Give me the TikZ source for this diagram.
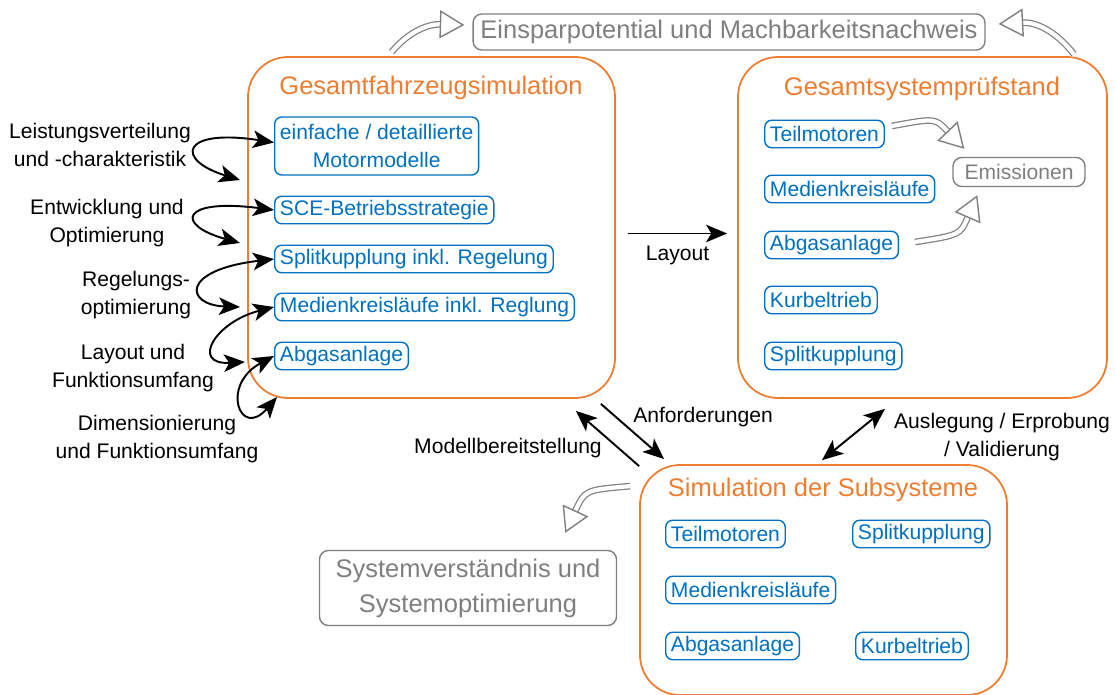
\documentclass[tikz,border=0pt]{standalone}
\usepackage{fontspec}
\setmainfont{Liberation Sans}
\usetikzlibrary{arrows.meta,fit,calc}
\definecolor{orng}{RGB}{237,125,49}
\definecolor{blu}{RGB}{0,112,192}
\definecolor{gry}{RGB}{127,127,127}

\begin{document}
\begin{tikzpicture}[x=0.02cm,y=-0.02cm,>={Stealth[length=12pt,width=10pt,inset=3pt]},
  bigbox/.style={draw=orng,line width=1pt,rounded corners=0.8cm,inner sep=0pt},
  title/.style={text=orng,font=\fontsize{14.5}{17}\selectfont},
  part/.style={draw=blu,text=blu,line width=0.8pt,rounded corners=4pt,inner xsep=3pt,
    inner ysep=1pt,minimum height=0.55cm,anchor=west,align=center,
    font=\fontsize{12}{15.5}\selectfont},
  goal/.style={draw=gry,text=gry,line width=0.8pt,rounded corners=5pt,align=center,
    font=\fontsize{14.5}{20}\selectfont},
  lbl/.style={align=center,font=\fontsize{12}{15.5}\selectfont},
  link/.style={line width=1.1pt},
  hollow/.style={draw=gry,line width=0.7pt,double=white,double distance=2.4pt,
    -{Triangle[open,length=14pt,width=16pt,line width=0.8pt]}}]
 \useasboundingbox (0,0) rectangle (1115,695);

 % drei Bereiche
 \node[bigbox,fit={(248,57) (615,398)}] (gfz) {};
 \node[bigbox,fit={(738,57) (1107,398)}] (gsp) {};
 \node[bigbox,fit={(640,465) (1007,695)}] (sub) {};
 \node[title] (gfzt) at (431,88) {Gesamtfahrzeugsimulation};
 \node[title] (gspt) at (922,89) {Gesamtsystemprüfstand};
 \node[title] (subt) at (823,490) {Simulation der Subsysteme};

 % Ziele (grau)
 \node[goal,minimum width=10.24cm,minimum height=0.72cm] (ein) at (729,32) {Einsparpotential und Machbarkeitsnachweis};
 \node[goal,minimum width=5.94cm,minimum height=1.5cm] (sys) at (468,588) {Systemverständnis und\\Systemoptimierung};
 \node[goal,minimum width=2.64cm,minimum height=0.58cm,font=\fontsize{12}{14}\selectfont] (em) at (1019,172) {Emissionen};

 % Gesamtfahrzeugsimulation
 \node[part,minimum height=1.16cm] (einf) at (274,146) {einfache / detaillierte\\Motormodelle};
 \node[part] (sce) at (274,210) {SCE-Betriebsstrategie};
 \node[part] (spl) at (274,259) {Splitkupplung inkl. Regelung};
 \node[part] (med) at (274,307) {Medienkreisläufe inkl. Reglung};
 \node[part] (abg) at (274,356) {Abgasanlage};

 % Gesamtsystemprüfstand
 \node[part] (tm2) at (764,134) {Teilmotoren};
 \node[part] (med2) at (764,189) {Medienkreisläufe};
 \node[part] (abg2) at (764,245) {Abgasanlage};
 \node[part] (kt2) at (764,300) {Kurbeltrieb};
 \node[part] (spl2) at (764,356) {Splitkupplung};

 % Subsysteme
 \node[part] (tm3) at (665,534) {Teilmotoren};
 \node[part] (spl3) at (852,534) {Splitkupplung};
 \node[part] (med3) at (665,590) {Medienkreisläufe};
 \node[part] (abg3) at (665,646) {Abgasanlage};
 \node[part] (kt3) at (855,646) {Kurbeltrieb};

 % Beschriftungen links
 \node[lbl] (l1) at (100,145) {Leistungsverteilung\\und -charakteristik};
 \node[lbl] (l2) at (107,223) {Entwicklung und\\Optimierung};
 \node[lbl] (l3) at (136,295) {Regelungs-\\optimierung};
 \node[lbl] (l4) at (133,368) {Layout und\\Funktionsumfang};
 \node[lbl] (l5) at (157,439) {Dimensionierung\\und Funktionsumfang};

 % Schleifen links
 \draw[link,<->] (240,180) .. controls (175,160) and (180,128) .. ([yshift=2pt]einf.west);
 \draw[link,<->] (240,243) .. controls (175,225) and (180,198) .. (sce.west);
 \draw[link,<->] (240,307) .. controls (185,305) and (180,270) .. (spl.west);
 \draw[link,<->] (245,362) .. controls (190,365) and (215,322) .. (med.west);
 \draw[link,<->] (277,397) .. controls (240,440) and (220,385) .. (abg.west);

 % Verbindungen zwischen den Bereichen
 \draw[link,->] ($(gfz.east)+(12,6)$) -- ($(gsp.west)+(-10,6)$) node[midway,below=3pt,lbl] (lay) {Layout};
 \draw[link,->] ($(gfz.south east)+(-15,5)$) -- ($(sub.north west)+(25,-5)$);
 \draw[link,->] ($(sub.north west)+(0,2)$) -- ($(gfz.south east)+(-40,12)$);
 \draw[link,<->] ($(sub.north)+(-1.5,-4)$) -- ($(gsp.south)+(-37.5,10)$);
 \node[lbl] (anf) at (703,417) {Anforderungen};
 \node[lbl] (mod) at (508,448) {Modellbereitstellung};
 \node[lbl] (aus) at (1002,437) {Auslegung / Erprobung\\/ Validierung};

 % graue Pfeile
 \draw[hollow] ($(gfz.north)+(-40,-4)$) .. controls (410,30) and (430,24) .. ($(ein.west)+(-8,-7)$);
 \draw[hollow] ($(gsp.north east)+(-34,-2)$) .. controls (1055,30) and (1035,22) .. ($(ein.east)+(13,-8)$);
 \draw[hollow] ($(tm2.east)+(7,-8)$) .. controls (935,118) .. ($(em.north west)+(12,-8)$);
 \draw[hollow] ($(abg2.east)+(16,-3)$) .. controls (960,235) .. ($(em.south west)+(25,8)$);
 \draw[hollow] ($(sub.north west)+(-9,22)$) .. controls (585,490) .. ($(sys.north east)+(-52,-17)$);
\end{tikzpicture}
\end{document}
